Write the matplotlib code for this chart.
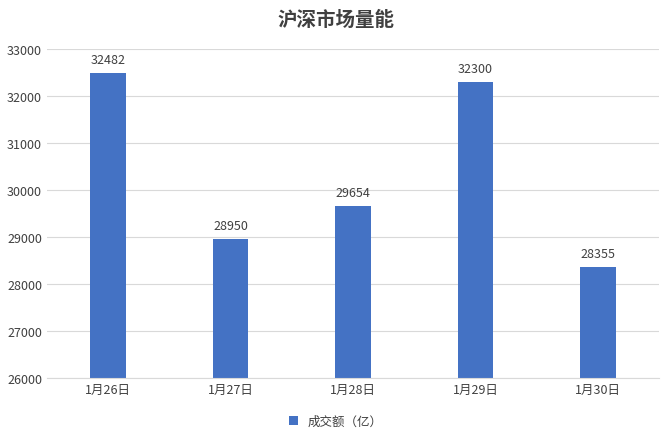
import matplotlib
matplotlib.use('Agg')
import matplotlib.pyplot as plt

plt.rcParams['font.family'] = ['Noto Sans CJK SC', 'DejaVu Sans']

dates = ['1月26日', '1月27日', '1月28日', '1月29日', '1月30日']
volumes = [32482, 28950, 29654, 32300, 28355]

fig = plt.figure(figsize=(6.72, 4.39), dpi=100)
ax = fig.add_axes([47 / 672, 1 - 379 / 439, 612 / 672, 329 / 439])

bars = ax.bar(range(len(dates)), volumes, width=0.29, color='#4472C4', label='成交额（亿）', zorder=2)
for i, v in enumerate(volumes):
    ax.text(i, v + 150, str(v), ha='center', va='bottom', fontsize=9, color='#404040')

ax.set_ylim(26000, 33000)
ax.set_yticks(range(26000, 33001, 1000))
ax.set_xlim(-0.5, len(dates) - 0.5)
ax.set_xticks(range(len(dates)))
ax.set_xticklabels(dates)
ax.tick_params(axis='both', length=0, labelsize=9, colors='#404040')
ax.grid(axis='y', color='#D9D9D9', linewidth=0.8, zorder=0)
for s in ['top', 'right', 'left']:
    ax.spines[s].set_visible(False)
ax.spines['bottom'].set_color('#D9D9D9')

fig.text(336 / 672, 1 - 20 / 439, '沪深市场量能', ha='center', va='center',
         fontsize=14, fontweight='bold', color='#404040')
fig.legend(loc='center', bbox_to_anchor=(336 / 672, 1 - 422 / 439), frameon=False,
           fontsize=9, handlelength=0.7, handleheight=0.7, labelcolor='#404040')

fig.savefig('out.png', dpi=100)
